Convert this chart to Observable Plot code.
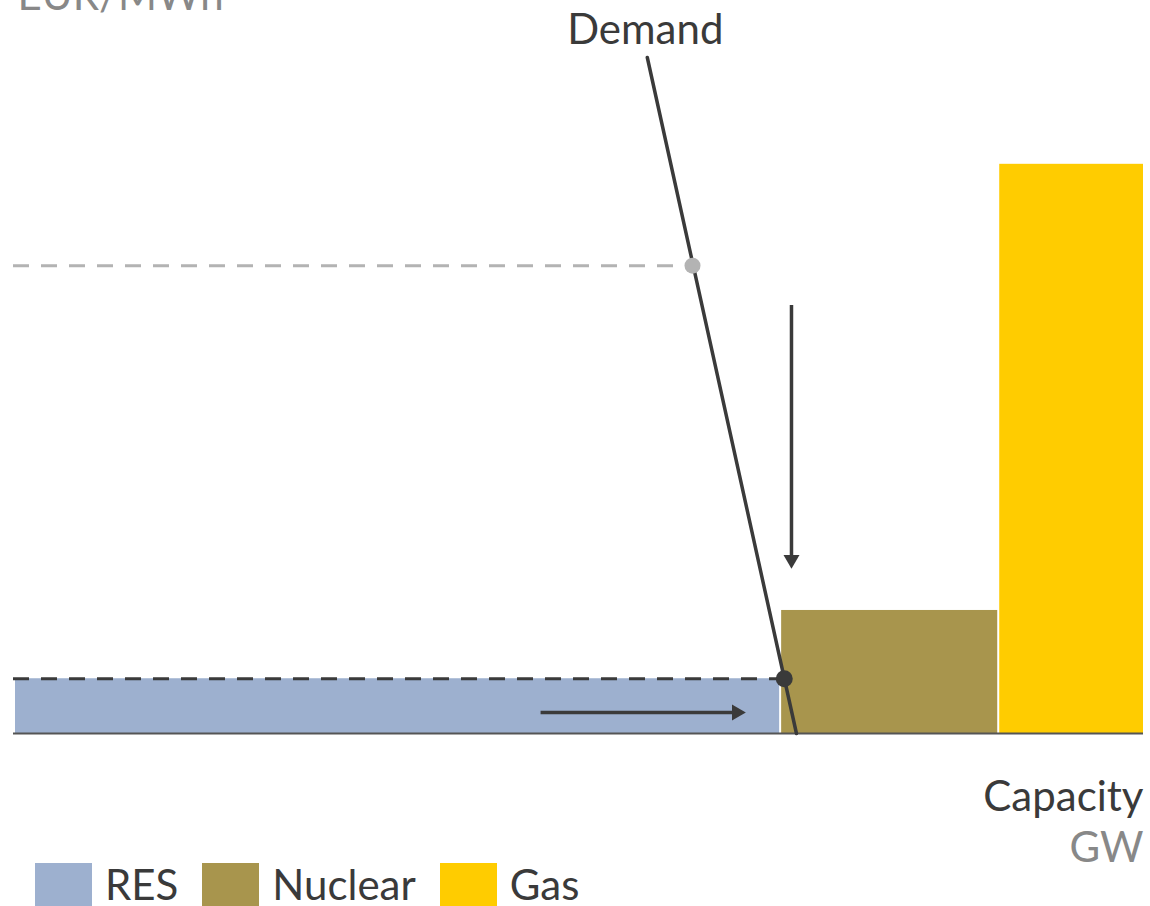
<!DOCTYPE html>
<html>
<head>
<meta charset="utf-8">
<script src="https://cdn.jsdelivr.net/npm/d3@7"></script>
<script src="https://cdn.jsdelivr.net/npm/@observablehq/plot@0.6"></script>
<style>
  html, body { margin: 0; padding: 0; background: #fff; }
  body { width: 1150px; height: 906px; overflow: hidden; font-family: Lato, sans-serif; }
  #legend { display: flex; align-items: center; margin-left: 35px; margin-top: -1px; }
  .item { display: flex; align-items: center; margin-right: 24px; }
  .sw { width: 57px; height: 43px; margin-right: 13px; }
  .lab { font-size: 42px; color: #3a3a3a; line-height: 43px; }
</style>
</head>
<body>
<div id="chart"></div>
<div id="legend"></div>
<script>
// ---- data ----
const techs = ["RES", "Nuclear", "Gas"];
const capStart = [0, 33.9, 43.55];      // GW
const capEnd = [33.9, 43.55, 50];       // GW
const cost = [8.1, 18.2, 84.2];         // EUR/MWh
const techColors = ["#9db0cf", "#a8954d", "#ffcc00"];

const demandX = [28.0, 34.6];
const demandY = [100, 0];

const oldPrice = 69.2, oldQty = 30.0;
const newPrice = 8.1, newQty = 34.06;

const downArrowX = 34.38, downArrowFrom = 63.3, downArrowTip = 24.4, downShaftEnd = 26.2;
const rightArrowY = 3.1, rightArrowFrom = 23.3, rightArrowTip = 32.35, rightShaftEnd = 31.8;

const yLabel = "EUR/MWh";
const xLabel = "Capacity";
const xUnit = "GW";
const demandLabel = "Demand";

// ---- tables ----
const bars = techs.map((t, i) => ({tech: t, x1: capStart[i], x2: capEnd[i], y: cost[i]}));
const demand = demandX.map((x, i) => ({x, y: demandY[i]}));

const dark = "#3a3a3a";

const plot = Plot.plot({
  width: 1150,
  height: 864,
  marginTop: 57,
  marginBottom: 131,
  marginLeft: 14,
  marginRight: 6,
  style: {fontFamily: "Lato, sans-serif", background: "white", overflow: "visible"},
  x: {domain: [0, 50], axis: null},
  y: {domain: [0, 100], axis: null},
  color: {domain: techs, range: techColors},
  marks: [
    Plot.rect(bars, {x1: "x1", x2: "x2", y1: 0, y2: "y", fill: "tech", insetLeft: 1, insetRight: 1}),
    Plot.ruleY([0], {stroke: "#555", strokeWidth: 2, dx: -1}),
    Plot.ruleY([{y: oldPrice, x2: oldQty}], {y: "y", x1: 0, x2: "x2", stroke: "#b3b3b3", strokeWidth: 3, strokeDasharray: "16,12", dx: -1}),
    Plot.ruleY([{y: newPrice, x2: newQty}], {y: "y", x1: 0, x2: "x2", stroke: dark, strokeWidth: 3, strokeDasharray: "16,12", dx: -1}),
    Plot.line(demand, {x: "x", y: "y", stroke: dark, strokeWidth: 3.5}),
    Plot.dot([{x: oldQty, y: oldPrice}], {x: "x", y: "y", r: 8, fill: "#b3b3b3"}),
    Plot.dot([{x: newQty, y: newPrice}], {x: "x", y: "y", r: 8.5, fill: dark}),
    // down arrow
    Plot.ruleX([{x: downArrowX, y1: downArrowFrom, y2: downShaftEnd}], {x: "x", y1: "y1", y2: "y2", stroke: dark, strokeWidth: 3.5}),
    Plot.dot([{x: downArrowX, y: downArrowTip}], {x: "x", y: "y", symbol: "triangle", r: 5.94, fill: dark, rotate: 180, dy: -9}),
    // right arrow
    Plot.ruleY([{y: rightArrowY, x1: rightArrowFrom, x2: rightShaftEnd}], {y: "y", x1: "x1", x2: "x2", stroke: dark, strokeWidth: 3.5}),
    Plot.dot([{x: rightArrowTip, y: rightArrowY}], {x: "x", y: "y", symbol: "triangle", r: 5.94, fill: dark, rotate: 90, dx: -9}),
    // labels
    Plot.text([demandLabel], {x: demandX[0], y: demandY[0], text: d => d, fontSize: 42, fill: dark, textAnchor: "middle", lineAnchor: "bottom", dy: -14, dx: -2}),
    Plot.text([yLabel], {frameAnchor: "top-left", text: d => d, fontSize: 42, fill: "#888", textAnchor: "start", lineAnchor: "bottom", dy: -48, dx: 3}),
    Plot.text([xLabel], {x: 50, y: 0, text: d => d, fontSize: 42, fill: dark, textAnchor: "end", lineAnchor: "bottom", dy: 77, dx: -1}),
    Plot.text([xUnit], {x: 50, y: 0, text: d => d, fontSize: 42, fill: "#888", textAnchor: "end", lineAnchor: "bottom", dy: 128, dx: -1})
  ]
});
document.getElementById("chart").appendChild(plot);

const legend = document.getElementById("legend");
techs.forEach((t, i) => {
  const item = document.createElement("div");
  item.className = "item";
  const sw = document.createElement("div");
  sw.className = "sw";
  sw.style.background = techColors[i];
  const lab = document.createElement("span");
  lab.className = "lab";
  lab.textContent = t;
  item.appendChild(sw);
  item.appendChild(lab);
  legend.appendChild(item);
});
</script>
</body>
</html>
